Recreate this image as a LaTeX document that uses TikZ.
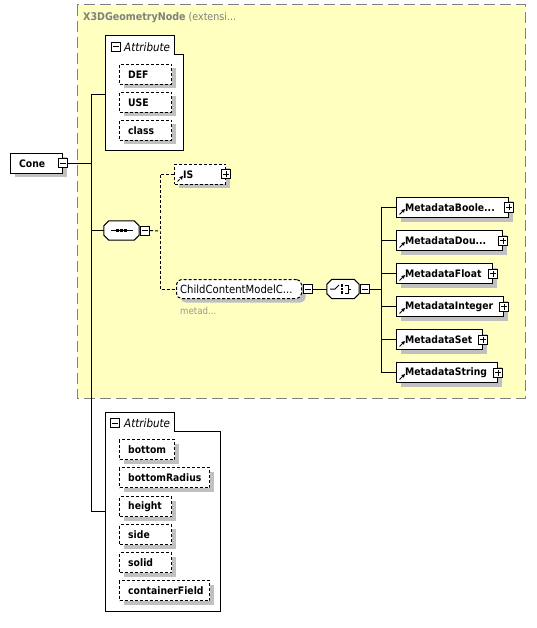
\documentclass[tikz,border=0pt]{standalone}
\usepackage{fontspec}
\setmainfont{DejaVu Sans Condensed}
\usetikzlibrary{shapes.misc,arrows.meta,shadows}
\definecolor{grpfill}{RGB}{255,255,192}
\definecolor{grpline}{RGB}{128,128,128}
\definecolor{shade}{RGB}{192,192,192}
\definecolor{ttl}{RGB}{128,128,128}
\definecolor{subttl}{RGB}{150,150,150}
\tikzset{
  conn/.style={line width=1pt, black},
  dconn/.style={conn, dash pattern=on 3pt off 2pt},
  shad/.style={drop shadow={shadow xshift=4pt, shadow yshift=-4pt, fill=shade, opacity=1, draw=none}},
  elbox/.style={draw, fill=white, line width=1pt, minimum height=20pt, inner sep=0, anchor=north west, shad},
  optbox/.style={elbox, dash pattern=on 3pt off 2pt},
  refmark/.style={path picture={\draw[line width=1pt,-{Triangle[length=3.5pt,width=3.5pt]}]
      ([shift={(3pt,3pt)}]path picture bounding box.south west) -- ++(5.5pt,5.5pt);}},
  refbox/.style={elbox, refmark},
  optrefbox/.style={optbox, refmark},
  lbl/.style={font=\bfseries\fontsize{10.3}{12}\selectfont, inner sep=0, anchor=west},
  rlbl/.style={font=\fontsize{11.2}{13}\selectfont, inner sep=0, anchor=west},
  itlbl/.style={font=\itshape\fontsize{11.5}{13}\selectfont, inner sep=0, anchor=west},
  pmbox/.style={draw, fill=white, line width=1pt, minimum size=9pt, inner sep=0},
  minusbox/.style={pmbox, path picture={\draw[line width=1pt]
      ([xshift=1.5pt]path picture bounding box.west) -- ([xshift=-1.5pt]path picture bounding box.east);}},
  plusbox/.style={pmbox, path picture={\draw[line width=1pt]
      ([xshift=1.5pt]path picture bounding box.west) -- ([xshift=-1.5pt]path picture bounding box.east)
      ([yshift=1.5pt]path picture bounding box.south) -- ([yshift=-1.5pt]path picture bounding box.north);}},
  modelnode/.style={rectangle, minimum height=19pt, inner sep=0},
  octshadow/.style={fill=shade, shift={(4pt,-4pt)}},
  octbody/.style={draw, fill=white, line width=1pt},
  attrbox/.style={draw, fill=white, line width=1pt},
}
\newcommand\elem[6]{% style, name, x, y, width, text
  \node[#1, minimum width=#5pt] (#2) at (#3,#4) {};
  \node[lbl] (#2-t) at ([xshift=9pt]#2.west) {#6};}
% octagon path on a node's border: style, name, chamfer
\newcommand\octpath[3]{%
  \path[#1]
    ([xshift=#3]#2.north west) -- ([xshift=-#3]#2.north east) -- ([yshift=-#3]#2.north east)
    -- ([yshift=#3]#2.south east) -- ([xshift=-#3]#2.south east) -- ([xshift=#3]#2.south west)
    -- ([yshift=#3]#2.south west) -- ([yshift=-#3]#2.north west) -- cycle;}
\newcommand\octagon[2]{\octpath{octshadow}{#1}{#2}\octpath{octbody}{#1}{#2}}
\begin{document}
\begin{tikzpicture}[x=1pt,y=-1pt]
\useasboundingbox (0,0) rectangle (536,628);
% group box
\draw[fill=grpfill, draw=grpline, line width=1pt, dash pattern=on 11pt off 5pt] (77,5) rectangle (525,398);
\node[anchor=west, inner sep=0, text=ttl, font=\fontsize{10.6}{12}\selectfont] (grptitle) at (83,18)
  {\textbf{X3DGeometryNode} (extensi...};

% upper attribute container
\draw[attrbox] (105,36) -- (174,36) -- (174,55) -- (183,55) -- (183,151) -- (105,151) -- cycle;
\coordinate (a1in) at (105,95);
\node[minusbox] (a1m) at (116,47) {};
\node[itlbl] (a1t) at (124,47) {Attribute};
\elem{optbox}{def}{119}{64}{52}{DEF}
\elem{optbox}{use}{119}{92}{52}{USE}
\elem{optbox}{class}{119}{120}{52}{class}

% lower attribute container
\draw[attrbox] (105,412) -- (174,412) -- (174,431) -- (220,431) -- (220,611) -- (105,611) -- cycle;
\coordinate (a2in) at (105,511);
\node[minusbox] (a2m) at (115,423) {};
\node[itlbl] (a2t) at (124,423) {Attribute};
\elem{optbox}{bottom}{119}{439}{55}{bottom}
\elem{optbox}{bradius}{119}{467}{90}{bottomRadius}
\elem{optbox}{height}{119}{496}{52}{height}
\elem{optbox}{side}{119}{524}{52}{side}
\elem{optbox}{solid}{119}{552}{52}{solid}
\elem{optbox}{cfield}{119}{580}{90}{containerField}

% Cone
\elem{elbox}{cone}{10}{153}{52}{Cone}
\node[minusbox] (conem) at (cone.east) {};

% bus
\coordinate (busT) at (91,95);
\coordinate (busB) at (91,511);
\draw[conn] (a1in) -- (busT) -- (busB) -- (a2in);
\draw[conn] (conem.east) -- (conem.east -| busT);

% sequence
\node[modelnode, minimum width=35pt] (seq) at (121.5,230.5) {};
\octagon{seq}{5pt}
\draw[conn] ([xshift=-11pt]seq.center) -- ([xshift=11pt]seq.center);
\foreach \dx in {-4,0,4} \fill ([xshift=\dx pt]seq.center) +(-1.5pt,-1.5pt) rectangle +(1.5pt,1.5pt);
\node[minusbox, anchor=west] (seqm) at ([xshift=1pt]seq.east) {};
\draw[conn] (seq.west) -- (seq.west -| busT);

% IS and ChildContentModel
\elem{optrefbox}{is}{174}{164}{51}{IS}
\node[plusbox] (isp) at (is.east) {};
\node[draw, fill=white, line width=1pt, dash pattern=on 3pt off 2pt, rounded corners=5pt, minimum width=125pt,
  minimum height=19pt, inner sep=0, anchor=west, shad] (ccm) at (176,289) {};
\node[rlbl] (ccm-t) at ([xshift=4pt]ccm.west) {ChildContentModelC...};
\node[minusbox, anchor=west] (ccmm) at ([xshift=1pt]ccm.east) {};
\node[rlbl, text=subttl, font=\fontsize{9.6}{11}\selectfont] (ccm-s) at (180,311) {metad...};
\coordinate (seqbus) at (160,231);
\draw[dconn] (seqm.east) -- (seqbus);
\draw[dconn] (is.west) -| (seqbus) |- (ccm.west);

% choice
\node[modelnode, minimum width=32pt] (choice) at (343,289) {};
\octagon{choice}{5pt}
\draw[conn] (330,289) -- (335,289) -- (339,285);
\foreach \dy in {-3.5,0,3.5} \fill (342,289+\dy) +(-1.2pt,-1.2pt) rectangle +(1.2pt,1.2pt);
\draw[conn] (344.5,285) -- (348,285) -- (348,293) -- (344.5,293) (348,289) -- (351,289);
\node[minusbox, anchor=west] (choicem) at ([xshift=1pt]choice.east) {};
\draw[conn] (ccmm.east) -- (choice.west);

% metadata
\elem{refbox}{mb}{396}{197}{112}{MetadataBoole...}
\elem{refbox}{md}{396}{230}{106}{MetadataDou...}
\elem{refbox}{mf}{396}{263}{96}{MetadataFloat}
\elem{refbox}{mi}{396}{296}{107}{MetadataInteger}
\elem{refbox}{ms}{396}{329}{86}{MetadataSet}
\elem{refbox}{mst}{396}{362}{101}{MetadataString}
\foreach \n in {mb,md,mf,mi,ms,mst} \node[plusbox] (\n-p) at (\n.east) {};
\coordinate (chbus) at (381,289);
\draw[conn] (choicem.east) -- (chbus);
\draw[conn] (mb.west) -| (chbus) (mst.west) -| (chbus);
\foreach \n in {md,mf,mi,ms} \draw[conn] (\n.west) -- (\n.west -| chbus);
\end{tikzpicture}
\end{document}
